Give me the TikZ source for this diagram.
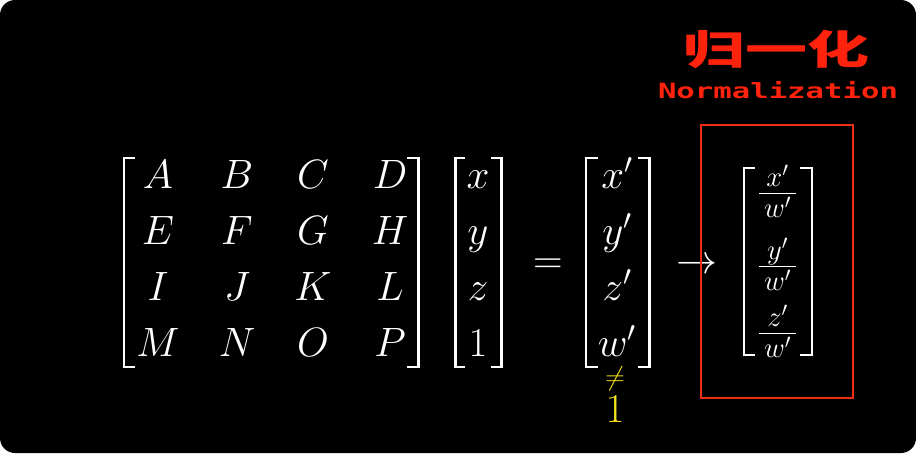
\RequirePackage{fix-cm}
\documentclass[tikz,border=0pt]{standalone}
\usepackage{fontspec}
\newfontfamily\cjk{Noto Sans CJK SC}
\newfontfamily\monof{DejaVu Sans Mono}
\definecolor{titlered}{RGB}{255,34,12}
\definecolor{boxred}{RGB}{240,45,25}
\definecolor{ylw}{RGB}{250,228,30}
\newcommand{\padfrac}[2]{\frac{\mkern3mu #1\mkern3mu}{\mkern3mu #2\mkern3mu}}
\begin{document}
\begin{tikzpicture}[x=1pt,y=-1pt]
\tikzset{
  ent/.style={anchor=base, text=white, inner sep=0pt, font=\fontsize{41}{49}\selectfont},
  brk/.style={draw=white, line width=2.2pt},
}
\fill[white] (0,0) rectangle (916,453);
\fill[black, rounded corners=15pt] (0,0) rectangle (916,453);
\useasboundingbox (0,0) rectangle (916,453);

% 4x4 matrix
\foreach \t [count=\i from 0] in {A,B,C,D,E,F,G,H,I,J,K,L,M,N,O,P}{
  \pgfmathtruncatemacro{\r}{int(\i/4)}
  \pgfmathtruncatemacro{\c}{mod(\i,4)}
  \pgfmathsetmacro{\xx}{{158,237,313,390}[\c]}
  \pgfmathsetmacro{\yy}{{188,244,300,356}[\r]}
  \node[ent] (m\i) at (\xx,\yy) {$\t$};
}
\draw[brk] (135,158) -- (124,158) -- (124,367) -- (135,367);
\draw[brk] (407,158) -- (418.5,158) -- (418.5,367) -- (407,367);

% vector
\node[ent] (vx) at (478,188) {$x$};
\node[ent] (vy) at (478,244) {$y$};
\node[ent] (vz) at (478,300) {$z$};
\node[ent] (v1) at (478,356) {$1$};
\draw[brk] (465,158) -- (455.5,158) -- (455.5,367) -- (465,367);
\draw[brk] (491,158) -- (501.5,158) -- (501.5,367) -- (491,367);

% equals
\node[ent] (eq) at (548,273) {$=$};

% result vector
\node[ent] (rx) at (617,188) {$x'$};
\node[ent] (ry) at (617,244) {$y'$};
\node[ent] (rz) at (617,300) {$z'$};
\node[ent] (rw) at (617,356) {$w'$};
\draw[brk] (598,158) -- (586,158) -- (586,367) -- (598,367);
\draw[brk] (638,158) -- (649.5,158) -- (649.5,367) -- (638,367);

% not equal 1
\node[ent, text=ylw, font=\fontsize{27}{30}\selectfont] (ne) at (615,385) {$\neq$};
\node[ent, text=ylw] (one) at (615,422) {$1$};

% arrow
\node[ent] (arr) at (697,273) {$\rightarrow$};

% red box
\draw[boxred, line width=2pt] (701,125) rectangle (853,398);

% normalized vector
\node[ent] (fx) at (777.5,203) {$\padfrac{x'}{w'}$};
\node[ent] (fy) at (777.5,276) {$\padfrac{y'}{w'}$};
\node[ent] (fz) at (777.5,343) {$\padfrac{z'}{w'}$};
\draw[brk] (755,168) -- (744,168) -- (744,355) -- (755,355);
\draw[brk] (800,168) -- (812,168) -- (812,355) -- (800,355);

% title
\node[anchor=base, text=titlered, inner sep=0pt] (t1) at (776,64)
  {\scalebox{1.55}[1]{\cjk\bfseries\fontsize{40}{40}\selectfont 归一化}};
\node[anchor=base, text=titlered, inner sep=0pt] (t2) at (778,98)
  {\scalebox{1.46}[1]{\monof\bfseries\fontsize{21}{21}\selectfont Normalization}};
\end{tikzpicture}
\end{document}
